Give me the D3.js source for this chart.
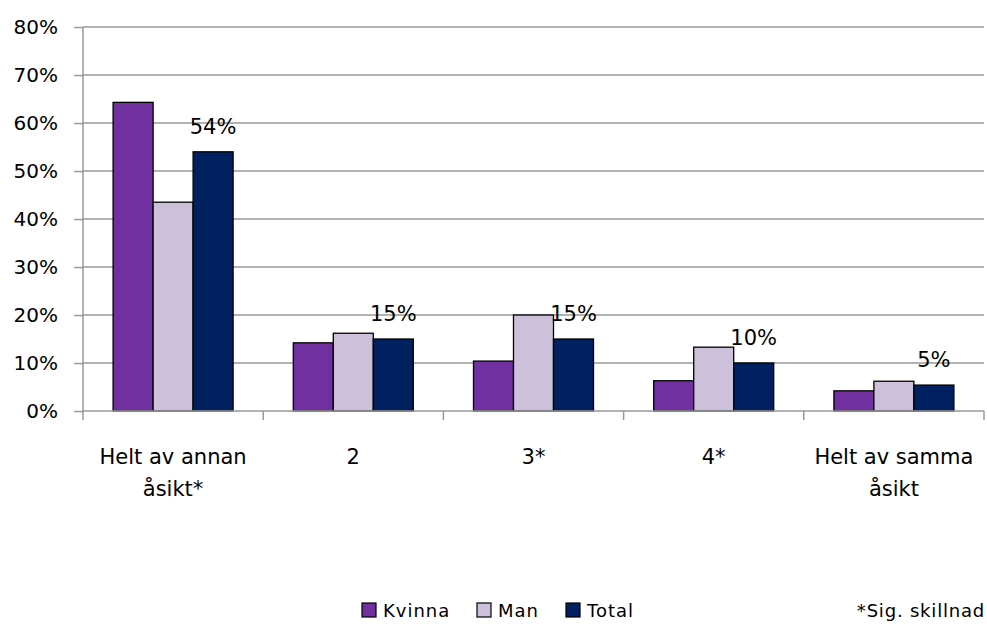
<!DOCTYPE html>
<html><head><meta charset="utf-8">
<script src="https://cdn.jsdelivr.net/npm/d3@7"></script>
<style>body{margin:0;background:#fff;}svg{display:block;}text{font-family:"DejaVu Sans",sans-serif;fill:#000;}</style>
</head><body>
<svg id="c" width="987" height="624"></svg>
<script>
const categories = [["Helt av annan","åsikt*"],["2"],["3*"],["4*"],["Helt av samma","åsikt"]];
const seriesNames = ["Kvinna","Man","Total"];
const kvinna = [64.3, 14.2, 10.4, 6.3, 4.2];
const man = [43.5, 16.2, 20.0, 13.3, 6.2];
const total = [54.0, 15.0, 15.0, 10.0, 5.4];
const totalLabels = ["54%","15%","15%","10%","5%"];
const yTicks = [0,10,20,30,40,50,60,70,80];
const colors = ["#7030A0","#CCC0DA","#002060"];
const footnote = "*Sig. skillnad";

(function(){
const svg = d3.select("#c");
const pL = 83, pR = 984, pT = 27, pB = 411;
const y = d3.scaleLinear().domain([0,80]).range([pB, pT]);
const x = d3.scaleBand().domain(d3.range(categories.length)).range([pL, pR]).paddingInner(0).paddingOuter(0);
const x1 = d3.scaleBand().domain(d3.range(3)).range([0, 120]);
const groupOff = (x.bandwidth() - 120) / 2;

// gridlines
svg.append("g").selectAll("line").data(yTicks.filter(d=>d>0)).join("line")
  .attr("x1", pL).attr("x2", pR).attr("y1", d=>y(d)).attr("y2", d=>y(d))
  .attr("stroke", "#999").attr("stroke-width", 1.5);

// y axis
const yAxis = svg.append("g").attr("transform", `translate(${pL},0)`)
  .call(d3.axisLeft(y).tickValues(yTicks).tickFormat(d=>d+"%").tickSize(9).tickPadding(16));
yAxis.select(".domain").attr("stroke","#999").attr("stroke-width",1.5).attr("d", `M0,${pB}V${pT}`);
yAxis.selectAll(".tick line").attr("stroke","#999").attr("stroke-width",1.5);
yAxis.selectAll(".tick text").attr("font-size", 20).attr("fill","#000").attr("font-family","'DejaVu Sans',sans-serif");

// bars
const data = [kvinna, man, total];
const groups = svg.append("g").selectAll("g").data(categories.map((c,i)=>i)).join("g")
  .attr("transform", i=>`translate(${x(i)+groupOff},0)`);
groups.selectAll("rect").data(i=>data.map((s,k)=>({k, v:s[i]}))).join("rect")
  .attr("x", d=>x1(d.k)).attr("width", x1.bandwidth())
  .attr("y", d=>y(d.v)).attr("height", d=>pB - y(d.v))
  .attr("fill", d=>colors[d.k]).attr("stroke","#000").attr("stroke-width",1.3);

// x axis
svg.append("line").attr("x1",pL).attr("x2",pR).attr("y1",pB).attr("y2",pB)
  .attr("stroke","#999").attr("stroke-width",1.5);
svg.append("g").selectAll("line").data(d3.range(categories.length+1)).join("line")
  .attr("x1", i=>pL + i*x.bandwidth()).attr("x2", i=>pL + i*x.bandwidth())
  .attr("y1", pB).attr("y2", pB+9).attr("stroke","#999").attr("stroke-width",1.5);

// x labels
const xl = svg.append("g").selectAll("text").data(categories).join("text")
  .attr("x", (d,i)=>x(i)+x.bandwidth()/2).attr("y", 464)
  .attr("text-anchor","middle").attr("font-size",21);
xl.selectAll("tspan").data(d=>d).join("tspan")
  .attr("x", function(){return this.parentNode.getAttribute("x");})
  .attr("dy", (d,j)=>j===0?0:32).text(d=>d);

// data labels for Total
svg.append("g").selectAll("text").data(total).join("text")
  .attr("x", (d,i)=>x(i)+groupOff+x1(2)+x1.bandwidth()/2)
  .attr("y", d=>y(d)-18)
  .attr("text-anchor","middle").attr("font-size",21).text((d,i)=>totalLabels[i]);

// legend
const legX = [362, 477, 566];
const leg = svg.append("g").selectAll("g").data(seriesNames).join("g")
  .attr("transform",(d,i)=>`translate(${legX[i]},603)`);
leg.append("rect").attr("width",14).attr("height",14).attr("fill",(d,i)=>colors[i]).attr("stroke","#000").attr("stroke-width",1.2);
leg.append("text").attr("x",21).attr("y",14).attr("font-size",18).attr("letter-spacing",1).text(d=>d);

svg.append("text").attr("x",985).attr("y",617).attr("text-anchor","end").attr("font-size",18).attr("letter-spacing",0.8).text(footnote);
})();
</script>
</body></html>
